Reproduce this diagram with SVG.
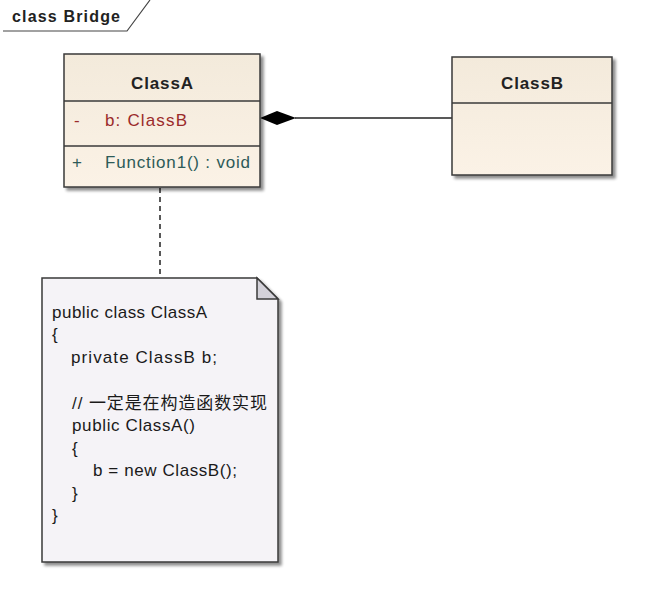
<svg xmlns="http://www.w3.org/2000/svg" width="651" height="599" viewBox="0 0 651 599">
<defs>
<linearGradient id="cls" x1="0" y1="0" x2="0" y2="1">
<stop offset="0" stop-color="#f3eadb"/>
<stop offset="1" stop-color="#fbf2e6"/>
</linearGradient>
<filter id="sh" x="-10%" y="-10%" width="130%" height="130%">
<feGaussianBlur in="SourceAlpha" stdDeviation="1.5"/>
<feOffset dx="3" dy="3"/>
<feComponentTransfer><feFuncA type="linear" slope="0.45"/></feComponentTransfer>
<feMerge><feMergeNode/><feMergeNode in="SourceGraphic"/></feMerge>
</filter>
</defs>
<style>
.box{fill:url(#cls);stroke:#3a3a3a;stroke-width:1.5}
.sep{stroke:#3a3a3a;stroke-width:1.5}
.title{font-family:"Liberation Sans",Arial,sans-serif;font-weight:bold;font-size:17px;fill:#222;text-anchor:middle}
.attr{font-family:"Liberation Sans",Arial,sans-serif;font-size:17px;fill:#9b2b2b}
.meth{font-family:"Liberation Sans",Arial,sans-serif;font-size:17px;fill:#2d5b58}
.code{font-family:"Liberation Sans","Noto Sans CJK SC",Arial,sans-serif;font-size:17px;fill:#1a1a1a}
.frame{font-family:"Liberation Sans",Arial,sans-serif;font-weight:bold;font-size:16px;fill:#222}
</style>
<rect width="651" height="599" fill="#fff"/>
<g id="frame">
<path d="M3,31 L127,31 L150,0" fill="none" stroke="#444" stroke-width="1.2"/>
<text x="12" y="22" class="frame" textLength="108">class Bridge</text>
</g>
<g id="connectors">
<line x1="295" y1="118" x2="452" y2="118" stroke="#222" stroke-width="1.5"/>
<path d="M260,118 L277,111 L296,118 L277,125 Z" fill="#000"/>
<line x1="160" y1="188" x2="160" y2="278" stroke="#222" stroke-width="1.5" stroke-dasharray="5,4"/>
</g>
<g id="ClassA">
<rect x="64" y="54" width="196" height="133" class="box" filter="url(#sh)"/>
<line x1="64" y1="101" x2="260" y2="101" class="sep"/>
<line x1="64" y1="146" x2="260" y2="146" class="sep"/>
<text x="162" y="89" class="title" textLength="62">ClassA</text>
<text x="74" y="126" class="attr">-</text>
<text x="105" y="126" class="attr" textLength="82">b:  ClassB</text>
<text x="72" y="168" class="meth">+</text>
<text x="105" y="168" class="meth" textLength="145">Function1() : void</text>
</g>
<g id="ClassB">
<rect x="452" y="57" width="160" height="118" class="box" filter="url(#sh)"/>
<line x1="452" y1="103" x2="612" y2="103" class="sep"/>
<text x="532" y="89" class="title" textLength="62">ClassB</text>
</g>
<g id="Note">
<path d="M42,278 L257,278 L278,299 L278,562 L42,562 Z" fill="#f5f3f7" stroke="#3a3a3a" stroke-width="1.5" filter="url(#sh)"/>
<path d="M257,278 L257,299 L278,299 Z" fill="#d3d1d9" stroke="#3a3a3a" stroke-width="1.5"/>
<text x="52" y="318" class="code" textLength="155">public class ClassA</text>
<text x="52" y="340" class="code">{</text>
<text x="71" y="363" class="code" textLength="146">private ClassB b;</text>
<text x="72" y="409" class="code" textLength="195">// 一定是在构造函数实现</text>
<text x="72" y="431" class="code" textLength="123">public ClassA()</text>
<text x="72" y="454" class="code">{</text>
<text x="93" y="476" class="code" textLength="144">b = new ClassB();</text>
<text x="72" y="499" class="code">}</text>
<text x="52" y="521" class="code">}</text>
</g>
</svg>
